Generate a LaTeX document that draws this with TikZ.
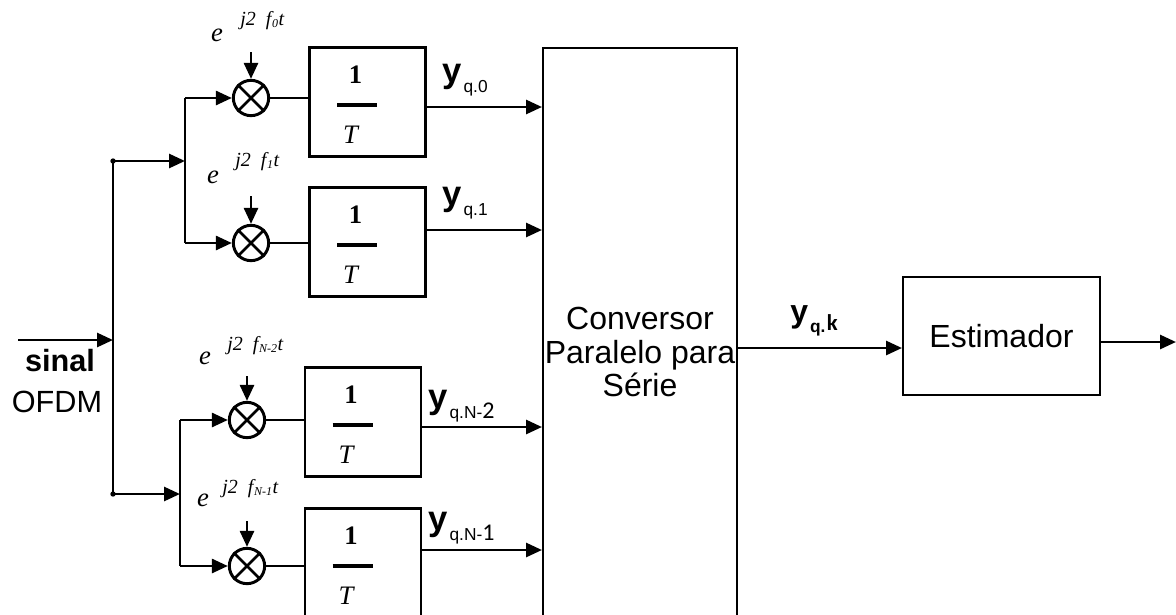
\documentclass[tikz,border=0pt]{standalone}
\usepackage{fontspec}
\setmainfont{Liberation Sans}
\newfontfamily\serifr{Liberation Serif}
\newfontfamily\calib{Carlito}
\usetikzlibrary{arrows.meta}
\newcommand\fsz[1]{\fontsize{#1}{#1}\selectfont}
\newcommand\ylbl[1]{{\fsz{26}\bfseries y}\kern1.5pt\raisebox{-8pt}{\fsz{13}#1}}
\newcommand\expsup[1]{{\serifr\itshape\fsz{15}j2\ \ f\kern0.5pt\raisebox{-1.5pt}{\fsz{9}#1}\kern0.5pt t}}
\begin{document}
\begin{tikzpicture}[x=0.75pt,y=-0.75pt,
  wire/.style={line width=2.1pt},
  arr/.style={wire,-{Triangle[length=12pt,width=10.5pt]}},
  fbox/.style={draw,line width=2.2pt,inner sep=0pt,minimum width=87pt,minimum height=82pt},
  bigbox/.style={draw,line width=1.5pt,inner sep=0pt},
  mult/.style={draw,circle,line width=2.2pt,inner sep=0pt,minimum size=26.5pt},
  txt/.style={inner sep=0pt},
]
\useasboundingbox (0,0) rectangle (1176,614);
\clip (0,0) rectangle (1176,614);

% converter and estimator
\node[bigbox,minimum width=145.5pt,minimum height=436.5pt] (conv) at (640,339) {};
\node[txt,align=center,font=\fontsize{24}{25}\selectfont] (convtext) at (640,352) {Conversor\\Paralelo para\\Série};
\node[bigbox,minimum width=147.75pt,minimum height=88.5pt,font=\fontsize{24}{25}\selectfont] (est) at (1001.5,336) {Estimador};

% integrator boxes
\foreach \i/\cx/\cy in {1/367.5/102, 2/367.5/242, 3/363/422, 4/363/563}{
  \node[fbox] (b\i) at (\cx,\cy) {};
  \node[txt,font=\serifr\bfseries\fontsize{20}{20}\selectfont] (one\i) at ({\cx-12},{\cy-27}) {1};
  \draw[line width=3pt] ({\cx-30.5},{\cy+3}) -- ({\cx+9.5},{\cy+3});
  \node[txt,font=\serifr\itshape\fontsize{20}{20}\selectfont] (T\i) at ({\cx-17},{\cy+33}) {T};
}

% multipliers
\foreach \i/\cx/\cy/\ty in {1/251/98/52, 2/251/243/196, 3/247/420/376, 4/247/566/521}{
  \node[mult] (c\i) at (\cx,\cy) {};
  \draw[line width=2pt] (c\i.north east) -- (c\i.south west);
  \draw[line width=2pt] (c\i.north west) -- (c\i.south east);
  \coordinate (t\i) at (\cx,\ty);
  \draw[arr] (t\i) -- (c\i.north);
  \draw[wire] (c\i.east) -- (c\i.east -| b\i.west);
}

% exponent labels
\node[txt,font=\serifr\itshape\fontsize{20}{20}\selectfont] (e1) at (217,35) {e};
\node[txt,anchor=west] (s1) at (240,21) {\expsup{0}};
\node[txt,font=\serifr\itshape\fontsize{20}{20}\selectfont] (e2) at (213,177) {e};
\node[txt,anchor=west] (s2) at (235,162) {\expsup{1}};
\node[txt,font=\serifr\itshape\fontsize{20}{20}\selectfont] (e3) at (205,358) {e};
\node[txt,anchor=west] (s3) at (227,346) {\expsup{N-2}};
\node[txt,font=\serifr\itshape\fontsize{20}{20}\selectfont] (e4) at (203,500) {e};
\node[txt,anchor=west] (s4) at (222,489) {\expsup{N-1}};

% input and distribution
\coordinate (in) at (18,340);
\coordinate (j1) at (113,161);
\coordinate (j2) at (113,494);
\coordinate (v1) at (185,161);
\coordinate (v2) at (180,494);
\draw[arr] (in) -- (in -| j1);
\draw[wire] (j1) -- (j2);
\fill (j1) circle (2pt);
\fill (j2) circle (2pt);
\draw[arr] (j1) -- (v1);
\draw[arr] (j2) -- (v2);
\draw[wire] (c1 -| v1) -- (c2 -| v1);
\draw[wire] (c3 -| v2) -- (c4 -| v2);
\draw[arr] (c1 -| v1) -- (c1.west);
\draw[arr] (c2 -| v1) -- (c2.west);
\draw[arr] (c3 -| v2) -- (c3.west);
\draw[arr] (c4 -| v2) -- (c4.west);
\node[txt,font=\bfseries\fontsize{23}{23}\selectfont] (sinal) at (60,361) {sinal};
\node[txt,font=\fontsize{23}{23}\selectfont] (ofdm) at (57,402) {OFDM};

% outputs of integrators
\coordinate (o1) at ([yshift=-3.75pt]b1.east);
\coordinate (o2) at ([yshift=9pt]b2.east);
\coordinate (o3) at ([yshift=-3.75pt]b3.east);
\coordinate (o4) at ([yshift=9.75pt]b4.east);
\foreach \i in {1,2,3,4}{ \draw[arr] (o\i) -- (o\i -| conv.west); }
\node[txt,anchor=base west] (y0) at (442,82) {\ylbl{q.0}};
\node[txt,anchor=base west] (y1) at (442,205) {\ylbl{q.1}};
\node[txt,anchor=base west] (y2) at (428,408) {\ylbl{q.N-{\calib\fsz{18}2}}};
\node[txt,anchor=base west] (y3) at (428,530) {\ylbl{q.N-{\calib\fsz{18}1}}};

% converter to estimator and output
\coordinate (ok) at (737,348);
\coordinate (out) at (1176,342);
\draw[arr] (conv.east |- ok) -- (ok -| est.west);
\draw[arr] (est.east |- out) -- (out);
\node[txt,anchor=base west] (yk) at (790,322) {{\fsz{24}\bfseries y}\kern1.5pt\raisebox{-8pt}{\fsz{13}\bfseries q.}\kern1pt\raisebox{-6pt}{\calib\bfseries\fsz{17}k}};
\end{tikzpicture}
\end{document}
